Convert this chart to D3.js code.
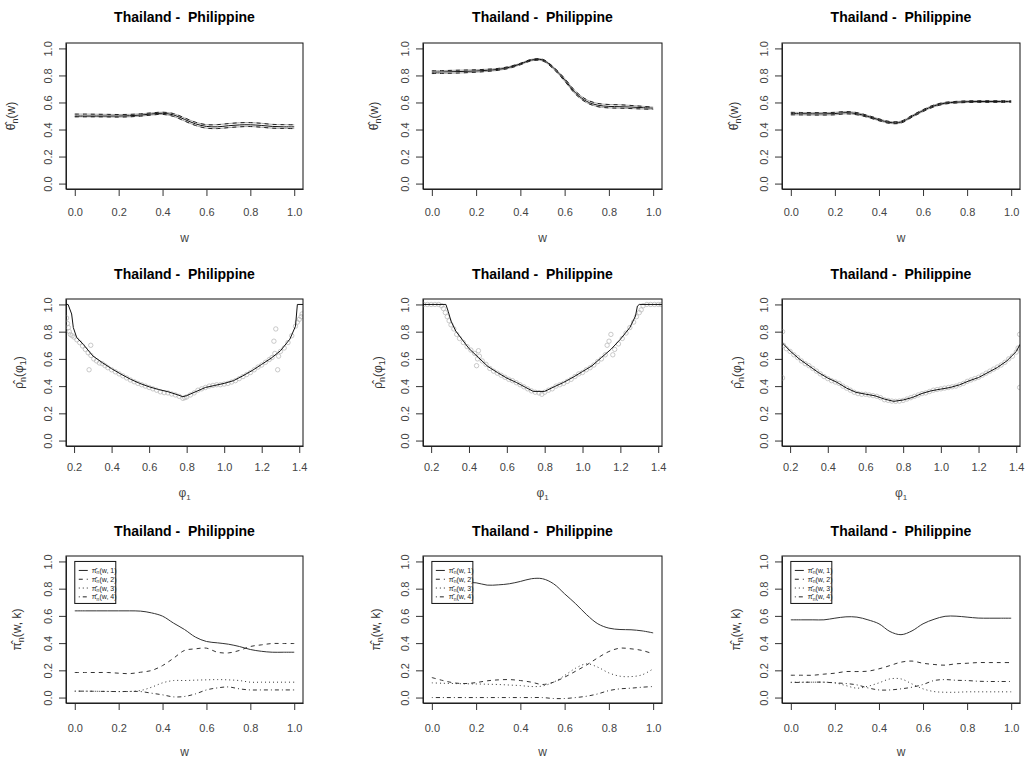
<!DOCTYPE html>
<html>
<head>
<meta charset="UTF-8">
<title>Thailand - Philippine</title>
<script src="https://cdn.jsdelivr.net/npm/d3@7"></script>
<style>
  body { margin: 0; background: #fff; }
  svg { font-family: Arial, "Liberation Sans", Helvetica, sans-serif; }
  .tick text { font-size: 11px; fill: #444; }
  .tick line, .domain { stroke: #333; }
</style>
</head>
<body>
<svg id="chart" width="1025" height="762"></svg>
<script>
  const panelTitle = "Thailand -\u00a0 Philippine";

  // ticks
  const wTicks = [0, 0.2, 0.4, 0.6, 0.8, 1.0];
  const phiTicks = [0.2, 0.4, 0.6, 0.8, 1.0, 1.2, 1.4];
  const yTicks = [0, 0.2, 0.4, 0.6, 0.8, 1.0];

  // grid of w used by rows 1 and 3
  const wGrid = [0, 0.05, 0.1, 0.15, 0.2, 0.25, 0.3, 0.35, 0.4, 0.45, 0.5,
                 0.55, 0.6, 0.65, 0.7, 0.75, 0.8, 0.85, 0.9, 0.95, 1.0];

  // row 1 : theta estimate and bands
  const theta1   = [0.500,0.500,0.500,0.500,0.500,0.502,0.507,0.515,0.520,0.508,0.475,0.442,0.423,0.420,0.428,0.434,0.435,0.430,0.423,0.420,0.420];
  const theta1Up = [0.514,0.514,0.513,0.512,0.511,0.512,0.516,0.523,0.528,0.518,0.486,0.454,0.436,0.436,0.444,0.450,0.451,0.446,0.438,0.436,0.435];
  const theta1Lo = [0.494,0.494,0.494,0.493,0.492,0.494,0.499,0.507,0.512,0.497,0.463,0.430,0.410,0.407,0.414,0.420,0.422,0.417,0.410,0.408,0.407];

  const theta2   = [0.824,0.826,0.828,0.830,0.833,0.838,0.845,0.860,0.885,0.914,0.915,0.855,0.768,0.670,0.608,0.580,0.571,0.569,0.566,0.562,0.558];
  const theta2Up = [0.834,0.836,0.838,0.840,0.842,0.846,0.852,0.866,0.890,0.919,0.920,0.862,0.778,0.682,0.620,0.593,0.585,0.583,0.578,0.572,0.566];
  const theta2Lo = [0.814,0.815,0.817,0.820,0.824,0.830,0.838,0.853,0.879,0.908,0.908,0.847,0.758,0.660,0.598,0.569,0.560,0.558,0.555,0.552,0.549];

  const theta3   = [0.518,0.517,0.516,0.516,0.518,0.525,0.517,0.497,0.472,0.452,0.455,0.498,0.540,0.575,0.595,0.602,0.606,0.607,0.607,0.607,0.607];
  const theta3Up = [0.527,0.526,0.525,0.525,0.527,0.533,0.525,0.504,0.479,0.459,0.462,0.505,0.547,0.582,0.601,0.608,0.612,0.613,0.613,0.613,0.613];
  const theta3Lo = [0.509,0.508,0.507,0.507,0.509,0.516,0.509,0.490,0.465,0.445,0.448,0.491,0.533,0.568,0.589,0.596,0.600,0.601,0.601,0.601,0.601];

  // row 2 : smoothed rho curve and raw estimates
  const rho1Phi = [0.157,0.168,0.187,0.196,0.214,0.25,0.3,0.35,0.4,0.45,0.5,0.55,0.6,0.65,0.7,0.75,0.78,0.8,0.85,0.9,0.95,1.0,1.05,1.1,1.15,1.2,1.25,1.3,1.35,1.38,1.39,1.42];
  const rho1Fit = [1.0,1.0,0.93,0.83,0.757,0.705,0.622,0.573,0.528,0.488,0.451,0.42,0.395,0.375,0.359,0.337,0.322,0.33,0.36,0.39,0.405,0.42,0.44,0.476,0.515,0.56,0.605,0.66,0.745,0.84,1.0,1.0];
  const rho1Pts = [[0.160,0.90],[0.165,0.86],[0.170,0.83],[0.175,0.80],[0.180,0.78],[0.190,0.77],[0.200,0.76],[0.215,0.74],[0.230,0.72],[0.245,0.695],[0.260,0.67],[0.275,0.645],[0.280,0.52],[0.289,0.70],[0.290,0.625],[0.305,0.60],[0.320,0.585],[0.335,0.57],[0.350,0.565],[0.365,0.55],[0.380,0.535],[0.400,0.52],[0.420,0.505],[0.440,0.49],[0.460,0.475],[0.480,0.46],[0.500,0.445],[0.520,0.432],[0.540,0.42],[0.560,0.41],[0.580,0.40],[0.600,0.39],[0.620,0.38],[0.640,0.37],[0.660,0.358],[0.680,0.352],[0.700,0.35],[0.720,0.342],[0.740,0.335],[0.760,0.325],[0.780,0.31],[0.790,0.315],[0.800,0.32],[0.820,0.335],[0.840,0.35],[0.860,0.37],[0.880,0.38],[0.900,0.39],[0.920,0.40],[0.940,0.405],[0.960,0.41],[0.980,0.41],[1.000,0.415],[1.020,0.42],[1.040,0.43],[1.060,0.44],[1.080,0.455],[1.100,0.47],[1.120,0.485],[1.140,0.50],[1.160,0.52],[1.180,0.54],[1.200,0.555],[1.220,0.575],[1.240,0.595],[1.255,0.61],[1.265,0.73],[1.270,0.64],[1.275,0.82],[1.285,0.52],[1.290,0.62],[1.300,0.655],[1.320,0.68],[1.340,0.72],[1.360,0.77],[1.380,0.84],[1.390,0.87],[1.400,0.89],[1.410,0.91],[1.415,0.93]];

  const rho2Phi = [0.157,0.278,0.29,0.305,0.33,0.35,0.4,0.45,0.5,0.55,0.6,0.65,0.7,0.74,0.8,0.85,0.9,0.95,1.0,1.05,1.1,1.15,1.2,1.25,1.28,1.29,1.3,1.42];
  const rho2Fit = [1.0,1.0,0.95,0.878,0.805,0.768,0.676,0.61,0.544,0.50,0.459,0.427,0.39,0.361,0.361,0.395,0.427,0.465,0.507,0.549,0.61,0.67,0.744,0.83,0.915,0.988,1.0,1.0];
  const rho2Pts = [[0.160,1.0],[0.180,1.0],[0.200,1.0],[0.220,1.0],[0.240,1.0],[0.255,0.99],[0.265,0.97],[0.275,0.94],[0.285,0.91],[0.295,0.88],[0.305,0.85],[0.320,0.82],[0.335,0.78],[0.350,0.75],[0.370,0.72],[0.390,0.69],[0.410,0.665],[0.430,0.64],[0.440,0.55],[0.445,0.60],[0.450,0.66],[0.455,0.62],[0.470,0.585],[0.490,0.56],[0.510,0.53],[0.530,0.51],[0.550,0.495],[0.570,0.48],[0.590,0.465],[0.610,0.45],[0.630,0.44],[0.650,0.425],[0.670,0.41],[0.690,0.395],[0.710,0.38],[0.730,0.365],[0.750,0.355],[0.770,0.35],[0.785,0.34],[0.800,0.355],[0.820,0.37],[0.840,0.38],[0.860,0.40],[0.880,0.41],[0.900,0.42],[0.920,0.435],[0.940,0.45],[0.960,0.47],[0.980,0.49],[1.000,0.50],[1.020,0.52],[1.040,0.535],[1.060,0.555],[1.080,0.58],[1.100,0.60],[1.120,0.63],[1.130,0.70],[1.140,0.73],[1.150,0.78],[1.160,0.63],[1.170,0.67],[1.190,0.71],[1.210,0.75],[1.230,0.79],[1.250,0.83],[1.270,0.87],[1.285,0.91],[1.300,0.94],[1.310,0.96],[1.320,0.99],[1.340,1.0],[1.360,1.0],[1.380,1.0],[1.400,1.0],[1.415,1.0]];

  const rho3Phi = [0.157,0.2,0.25,0.3,0.35,0.4,0.45,0.5,0.55,0.6,0.65,0.7,0.75,0.8,0.85,0.9,0.95,1.0,1.05,1.1,1.15,1.2,1.25,1.3,1.35,1.4,1.42];
  const rho3Fit = [0.72,0.658,0.598,0.549,0.50,0.459,0.427,0.385,0.354,0.341,0.329,0.305,0.288,0.298,0.317,0.346,0.366,0.378,0.39,0.41,0.439,0.463,0.50,0.537,0.585,0.654,0.707];
  const rho3Pts = [[0.160,0.80],[0.160,0.46],[0.165,0.70],[0.180,0.675],[0.200,0.655],[0.220,0.63],[0.240,0.61],[0.260,0.585],[0.280,0.565],[0.300,0.55],[0.320,0.53],[0.340,0.51],[0.360,0.49],[0.380,0.47],[0.400,0.455],[0.420,0.44],[0.440,0.43],[0.460,0.42],[0.480,0.40],[0.500,0.385],[0.520,0.37],[0.540,0.355],[0.560,0.345],[0.580,0.34],[0.600,0.34],[0.620,0.335],[0.640,0.33],[0.660,0.325],[0.680,0.315],[0.700,0.30],[0.720,0.295],[0.740,0.29],[0.760,0.288],[0.780,0.29],[0.800,0.295],[0.820,0.305],[0.840,0.315],[0.860,0.325],[0.880,0.335],[0.900,0.345],[0.920,0.35],[0.940,0.36],[0.960,0.37],[0.980,0.375],[1.000,0.38],[1.020,0.385],[1.040,0.39],[1.060,0.395],[1.080,0.40],[1.100,0.41],[1.120,0.42],[1.140,0.435],[1.160,0.445],[1.180,0.455],[1.200,0.465],[1.220,0.48],[1.240,0.495],[1.260,0.51],[1.280,0.525],[1.300,0.54],[1.320,0.555],[1.340,0.575],[1.360,0.60],[1.380,0.62],[1.400,0.65],[1.410,0.68],[1.418,0.78],[1.418,0.39]];

  // row 3 : mixing weights for k = 1..4
  const pi1 = [
    [0.637,0.637,0.637,0.637,0.637,0.637,0.635,0.622,0.598,0.547,0.500,0.444,0.412,0.402,0.392,0.375,0.353,0.340,0.333,0.333,0.333],
    [0.184,0.184,0.184,0.184,0.179,0.176,0.186,0.199,0.235,0.289,0.346,0.358,0.363,0.333,0.328,0.346,0.375,0.387,0.397,0.397,0.397],
    [0.047,0.047,0.046,0.045,0.044,0.045,0.052,0.076,0.108,0.125,0.125,0.128,0.130,0.132,0.130,0.125,0.113,0.113,0.113,0.113,0.113],
    [0.047,0.047,0.046,0.045,0.044,0.045,0.044,0.032,0.020,0.005,0.008,0.027,0.056,0.071,0.078,0.064,0.056,0.056,0.056,0.056,0.056]
  ];
  const pi2 = [
    [0.850,0.848,0.846,0.845,0.843,0.826,0.828,0.836,0.853,0.873,0.873,0.836,0.762,0.689,0.608,0.542,0.510,0.500,0.498,0.490,0.475],
    [0.147,0.125,0.108,0.103,0.110,0.123,0.130,0.132,0.125,0.113,0.096,0.113,0.150,0.194,0.240,0.292,0.338,0.363,0.358,0.346,0.321],
    [0.108,0.105,0.103,0.101,0.100,0.098,0.096,0.092,0.088,0.081,0.085,0.113,0.162,0.216,0.248,0.223,0.181,0.157,0.154,0.167,0.211],
    [0.000,0.000,0.000,0.000,0.000,0.000,0.000,0.000,0.000,0.000,0.000,-0.007,-0.007,0.000,0.010,0.027,0.051,0.064,0.069,0.076,0.081]
  ];
  const pi3 = [
    [0.571,0.571,0.571,0.571,0.583,0.593,0.591,0.571,0.542,0.485,0.462,0.490,0.542,0.575,0.597,0.598,0.591,0.584,0.583,0.583,0.583],
    [0.164,0.164,0.164,0.172,0.179,0.191,0.191,0.194,0.211,0.235,0.260,0.268,0.252,0.243,0.238,0.248,0.252,0.257,0.257,0.257,0.257],
    [0.113,0.113,0.113,0.113,0.108,0.088,0.069,0.083,0.108,0.137,0.137,0.100,0.064,0.044,0.039,0.039,0.042,0.042,0.042,0.042,0.042],
    [0.110,0.112,0.113,0.113,0.108,0.103,0.093,0.071,0.056,0.056,0.064,0.076,0.096,0.125,0.132,0.127,0.125,0.120,0.118,0.118,0.118]
  ];
  const legendK = ["1", "2", "3", "4"];
  const dashes = [null, "4,4", "1,3", "1,3,4,3"];

  // layout (pixel boxes of the nine plot regions)
  const colL = [66, 423, 782], colR = [303, 662, 1020];
  const rowT = [43, 299, 556], rowB = [189, 446, 703];
  const titleY = [22, 279, 536];
  const xTickPad = [12, 10, 14];
  const xLabY = [242, 497, 756];
  const yLabOff = [[51, 45, 44], [43, 41, 41], [45, 43, 42]];

  const svg = d3.select("#chart");
  svg.append("rect").attr("width", 1025).attr("height", 762).attr("fill", "#fff");

  function frame(row, col, xDomain, xTicks) {
    const L = colL[col], R = colR[col], T = rowT[row], B = rowB[row];
    const x = d3.scaleLinear().domain(xDomain).range([L, R]);
    const y = d3.scaleLinear().domain([-0.04, 1.04]).range([B, T]);
    const g = svg.append("g");
    const id = "clip" + row + col;
    svg.append("clipPath").attr("id", id)
      .append("rect").attr("x", L).attr("y", T).attr("width", R - L).attr("height", B - T);

    g.append("g")
      .attr("transform", `translate(0,${B})`)
      .call(d3.axisBottom(x).tickValues(xTicks).tickFormat(d3.format(".1f"))
        .tickSize(7).tickSizeOuter(0).tickPadding(xTickPad[row]));

    g.append("g")
      .attr("transform", `translate(${L},0)`)
      .call(d3.axisLeft(y).tickValues(yTicks).tickFormat(d3.format(".1f"))
        .tickSize(7).tickSizeOuter(0))
      .call(a => a.selectAll(".tick text")
        .attr("x", null).attr("dy", null)
        .attr("text-anchor", "middle")
        .attr("dominant-baseline", "central")
        .attr("transform", "translate(-18,0) rotate(-90)"));

    const plot = g.append("g").attr("clip-path", `url(#${id})`);

    g.append("rect")
      .attr("x", L).attr("y", T).attr("width", R - L).attr("height", B - T)
      .attr("fill", "none").attr("stroke", "#111").attr("stroke-width", 1);

    g.append("text")
      .attr("x", (L + R) / 2).attr("y", titleY[row])
      .attr("text-anchor", "middle")
      .attr("font-size", 14).attr("font-weight", "bold").attr("fill", "#000")
      .text(panelTitle);

    return { x, y, g, plot, L, R, T, B };
  }

  function xLabel(p, row, parts) {
    const t = p.g.append("text")
      .attr("x", (p.L + p.R) / 2).attr("y", xLabY[row])
      .attr("text-anchor", "middle").attr("font-size", 12).attr("fill", "#444");
    let down = 0;
    parts.forEach(([s, sub]) => {
      const dy = sub ? 3 - down : -down;
      down = sub ? 3 : 0;
      t.append("tspan").attr("font-size", sub ? 8 : 12).attr("dy", dy).text(s);
    });
  }

  function yLabel(p, row, col, parts) {
    const cx = p.L - yLabOff[row][col], cy = (p.T + p.B) / 2;
    const t = p.g.append("text")
      .attr("transform", `translate(${cx},${cy}) rotate(-90)`)
      .attr("text-anchor", "middle").attr("font-size", 12).attr("fill", "#333");
    let down = 0;
    parts.forEach(([s, sub]) => {
      const dy = sub ? 3 - down : -down;
      down = sub ? 3 : 0;
      t.append("tspan").attr("font-size", sub ? 9 : 12).attr("dy", dy).text(s);
    });
  }

  const smooth = d3.curveCatmullRom.alpha(0.5);

  // row 1
  [[theta1, theta1Up, theta1Lo], [theta2, theta2Up, theta2Lo], [theta3, theta3Up, theta3Lo]]
    .forEach(([mid, up, lo], col) => {
      const p = frame(0, col, [-0.04, 1.04], wTicks);
      const line = d3.line().x((d, i) => p.x(wGrid[i])).y(d => p.y(d)).curve(smooth);
      [up, lo].forEach(s => {
        p.plot.append("path").attr("d", line(s)).attr("fill", "none")
          .attr("stroke", "#aaa").attr("stroke-width", 1);
        p.plot.append("path").attr("d", line(s)).attr("fill", "none")
          .attr("stroke", "#222").attr("stroke-width", 1).attr("stroke-dasharray", "4,4");
      });
      p.plot.append("path").attr("d", line(mid)).attr("fill", "none")
        .attr("stroke", "#111").attr("stroke-width", 1);
      xLabel(p, 0, [["w", false]]);
      yLabel(p, 0, col, [["θ\u0302", false], ["n", true], ["(w)", false]]);
    });

  // row 2
  [[rho1Phi, rho1Fit, rho1Pts], [rho2Phi, rho2Fit, rho2Pts], [rho3Phi, rho3Fit, rho3Pts]]
    .forEach(([phi, fit, pts], col) => {
      const p = frame(1, col, [0.157, 1.42], phiTicks);
      p.plot.selectAll("circle").data(pts).join("circle")
        .attr("cx", d => p.x(d[0])).attr("cy", d => p.y(d[1])).attr("r", 2.2)
        .attr("fill", "none").attr("stroke", "#bbb").attr("stroke-width", 0.8);
      const line = d3.line().x((d, i) => p.x(phi[i])).y(d => p.y(d));
      p.plot.append("path").attr("d", line(fit)).attr("fill", "none")
        .attr("stroke", "#111").attr("stroke-width", 1);
      xLabel(p, 1, [["φ", false], ["1", true]]);
      yLabel(p, 1, col, [["ρ\u0302", false], ["n", true], ["(φ", false], ["1", true], [")", false]]);
    });

  // row 3
  [pi1, pi2, pi3].forEach((series, col) => {
    const p = frame(2, col, [-0.04, 1.04], wTicks);
    const line = d3.line().x((d, i) => p.x(wGrid[i])).y(d => p.y(d)).curve(smooth);
    series.forEach((s, k) => {
      p.plot.append("path").attr("d", line(s)).attr("fill", "none")
        .attr("stroke", "#333").attr("stroke-width", 1)
        .attr("stroke-dasharray", dashes[k]);
    });
    // legend in the top left corner
    const lx = p.x(0), ly = p.y(1.0);
    const lg = p.g.append("g").attr("transform", `translate(${lx},${ly})`);
    lg.append("rect").attr("width", 41).attr("height", 42)
      .attr("fill", "#fff").attr("stroke", "#111").attr("stroke-width", 1);
    legendK.forEach((k, i) => {
      const yy = 9 + i * 8.8;
      lg.append("line").attr("x1", 4).attr("x2", 13).attr("y1", yy).attr("y2", yy)
        .attr("stroke", "#222").attr("stroke-width", 1).attr("stroke-dasharray", dashes[i]);
      const t = lg.append("text").attr("x", 17).attr("y", yy + 2.5)
        .attr("font-size", 7).attr("fill", "#222");
      t.append("tspan").text("π\u0302");
      t.append("tspan").attr("font-size", 5).attr("dy", 1.5).text("n");
      t.append("tspan").attr("dy", -1.5).text("(w, " + k + ")");
    });
    xLabel(p, 2, [["w", false]]);
    yLabel(p, 2, col, [["π\u0302", false], ["n", true], ["(w, k)", false]]);
  });
</script>
</body>
</html>
